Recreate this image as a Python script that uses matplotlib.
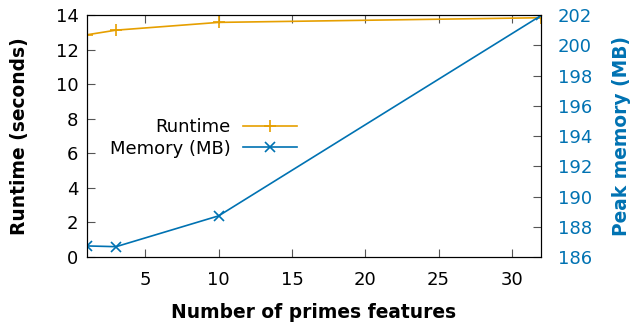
import matplotlib
matplotlib.use("Agg")
import matplotlib.pyplot as plt

# data
primes = [1, 3, 10, 32]
runtime = [12.86, 13.13, 13.58, 13.85]
memory = [186.73, 186.68, 188.72, 201.98]

orange = "#E69F00"
blue = "#0072B2"

plt.rcParams["font.family"] = "DejaVu Sans"
plt.rcParams["font.size"] = 13

fig = plt.figure(figsize=(6.33, 3.22), dpi=100)
ax = fig.add_axes([0.137, 0.202, 0.718, 0.751])
ax2 = ax.twinx()

l1, = ax.plot(primes, runtime, color=orange, lw=1.2, marker="+", ms=9, mew=1.2, label="Runtime")
l2, = ax2.plot(primes, memory, color=blue, lw=1.2, marker="x", ms=7.5, mew=1.2, label="Memory (MB)")

ax.set_xlim(1, 32)
ax.set_ylim(0, 14)
ax.set_xticks([5, 10, 15, 20, 25, 30])
ax.set_yticks(range(0, 15, 2))
ax2.set_ylim(186, 202)
ax2.set_yticks(range(186, 203, 2))

ax.tick_params(axis="x", direction="in", top=True, length=6, pad=10)
ax.tick_params(axis="y", direction="in", length=6, pad=6)
ax2.tick_params(axis="y", direction="in", length=6, pad=12, colors=blue)
ax2.tick_params(axis="y", color="#555555")
ax.tick_params(color="#555555")

ax.set_xlabel("Number of primes features", fontweight="bold", fontsize=13.4, labelpad=10)
ax.set_ylabel("Runtime (seconds)", fontweight="bold", fontsize=13.4, labelpad=19)
ax2.set_ylabel("Peak memory (MB)", fontweight="bold", fontsize=13.4, color=blue, labelpad=14)

ax.legend(handles=[l1, l2], loc="center right", bbox_to_anchor=(0.463, 0.493),
          frameon=False, markerfirst=False, borderpad=0, borderaxespad=0,
          handlelength=3.0, handletextpad=0.7, labelspacing=0.2)

fig.savefig("out.png", dpi=100)
